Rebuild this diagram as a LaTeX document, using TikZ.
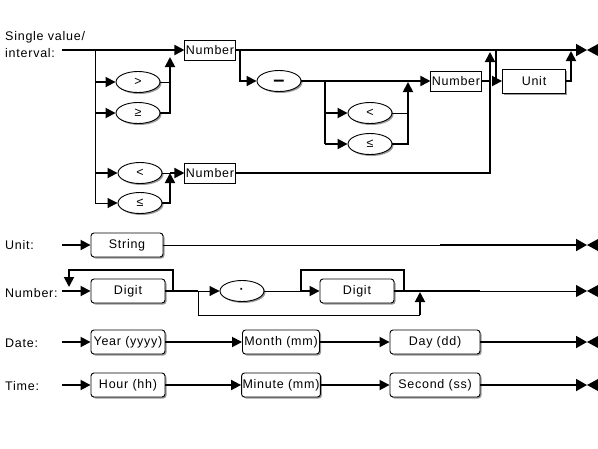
\documentclass[tikz,border=0pt]{standalone}
\usepackage{fontspec}
\setmainfont[LetterSpace=6]{Liberation Sans}
\usetikzlibrary{arrows.meta,shapes.geometric,shadows}
\begin{document}
\begin{tikzpicture}[x=1pt,y=-1pt,
  font=\fontsize{12.5}{14}\selectfont,
  thk/.style={line width=1.8pt},
  thn/.style={line width=0.9pt},
  arr/.style={-{Triangle[length=10pt,width=10pt]}},
  endarr/.style={-{Triangle[length=11pt,width=12pt]}},
  shad/.style={drop shadow={shadow xshift=1.5pt,shadow yshift=-1.5pt,opacity=1,fill=black!40}},
  sq/.style={draw,fill=white,line width=0.9pt,minimum height=20pt,inner sep=1pt},
  rbox/.style={draw,fill=white,line width=0.9pt,rounded corners=3pt,minimum height=24pt,inner sep=1pt,shad},
  oval/.style={draw,fill=white,ellipse,line width=0.9pt,minimum width=44pt,minimum height=21pt,inner sep=0pt,shad},
  lbl/.style={anchor=west,inner sep=0pt},
  ]
\useasboundingbox (0,0) rectangle (598,448);

% ---------------- Row 1: Single value / interval
\node[lbl] (t1) at (5,37) {Single value/};
\node[lbl] (t2) at (5,53) {interval:};
\coordinate (s1) at (62,50);
\coordinate (b1) at (95,50);
\node[sq,minimum width=50pt] (n1) at (210,50) {Number};
\node[oval] (gt) at (138,82) {>};
\node[oval] (ge) at (138,113) {≥};
\node[oval] (lt) at (140,173) {<};
\node[oval] (le) at (140,203) {≤};
\coordinate (b1d) at (95,203);
\coordinate (m1) at (170,57);
\coordinate (m2) at (170,173);
\node[sq,minimum width=50pt] (n2) at (210,173) {Number};
\coordinate (j1) at (490,52);
\coordinate (e1) at (587,50);

\draw[thk,arr] (s1) -- (n1.west);
\draw[thn] (b1) -- (b1d);
\draw[thk,arr] (b1 |- gt) -- (gt.west);
\draw[thk,arr] (b1 |- ge) -- (ge.west);
\draw[thk,arr] (b1 |- lt) -- (lt.west);
\draw[thn,arr] (b1d) -- (le.west);
\draw[thn] (gt.east) -- (gt.east -| m1);
\draw[thk,arr] (ge.east) -| (m1);
\draw[thn] (lt.east) -- (m2);
\draw[thk,arr] (le.east) -| (m2);
\draw[thk,arr] (m2) -- (n2.west);
\draw[thk,arr] (n2.east) -| (j1);
\draw[thk,endarr] (n1.east) -- (e1);
\fill (e1) -- ++(11,-6) -- ++(0,12) -- cycle;

% minus branch
\coordinate (b2) at (240,50);
\node[oval] (mi) at (279,81) {\smash{\raisebox{-5pt}{\fontsize{20}{20}\selectfont\bfseries –}}};
\node[sq,minimum width=49pt] (n3) at (456,81) {Number};
\coordinate (b3) at (325,81);
\node[oval] (lt2) at (370,113) {<};
\node[oval] (le2) at (370,144) {≤};
\coordinate (m3) at (408,82);
\draw[thk,arr] (b2) |- (mi.west);
\draw[thk,arr] (mi.east) -- (n3.west);
\draw[thk] (b3) -- (b3 |- le2);
\draw[thk,arr] (b3 |- lt2) -- (lt2.west);
\draw[thk,arr] (b3 |- le2) -- (le2.west);
\draw[thn] (lt2.east) -- (lt2.east -| m3);
\draw[thk,arr] (le2.east) -| (m3);
\draw[thk] (n3.east) -- (n3.east -| j1);

% unit option
\coordinate (b4) at (496,50);
\node[sq,shad,minimum width=63pt,minimum height=24pt] (un) at (534,81) {Unit};
\coordinate (j2) at (571,51);
\draw[thk,arr] (b4) |- (un.west);
\draw[thk,arr] (un.east) -| (j2);

% ---------------- Row 2: Unit
\node[lbl] (t3) at (5,245) {Unit:};
\coordinate (s2) at (62,245);
\node[rbox,minimum width=72pt] (str) at (127,245) {String};
\coordinate (u2) at (440,245);
\coordinate (e2) at (587,245);
\draw[thk,arr] (s2) -- (str.west);
\draw[thn] (str.east) -- (u2);
\draw[thk,endarr] (u2) -- (e2);
\fill (e2) -- ++(11,-6) -- ++(0,12) -- cycle;

% ---------------- Row 3: Number
\node[lbl] (t4) at (5,293) {Number:};
\coordinate (s3) at (62,291);
\node[rbox,minimum width=74pt] (d1) at (128,291) {Digit};
\coordinate (l1tr) at (173,270);
\coordinate (l1tl) at (69,270);
\coordinate (l1a) at (69,287);
\coordinate (b5) at (198,291);
\node[oval] (dot) at (242,291) {\textbf{·}};
\coordinate (l2l) at (301,291);
\coordinate (l2tl) at (301,270);
\coordinate (l2tr) at (404,270);
\coordinate (l2r) at (404,291);
\node[rbox,minimum width=74pt] (d2) at (357,291) {Digit};
\coordinate (bb1) at (198,315);
\coordinate (bb2) at (420,315);
\coordinate (bb3) at (420,292);
\coordinate (u3) at (480,291);
\coordinate (e3) at (587,291);

\draw[thk,arr] (s3) -- (d1.west);
\draw[thk,arr] (d1.east -| l1tr) -- (l1tr) -- (l1tl) -- (l1a);
\draw[thk] (d1.east) -- (d1.east -| b5);
\draw[thn,arr] (b5) -- (dot.west);
\draw[thn] (dot.east) -- (l2l);
\draw[thk,arr] (l2l) -- (d2.west);
\draw[thk] (l2r) -- (l2tr) -- (l2tl) -- (l2l);
\draw[thn] (b5) -- (bb1) -- (bb2);
\draw[thk,arr] (bb2) -- (bb3);
\draw[thk] (d2.east) -- (u3);
\draw[thn,endarr] (u3) -- (e3);
\fill (e3) -- ++(11,-6) -- ++(0,12) -- cycle;

% ---------------- Row 4: Date
\node[lbl] (t5) at (5,343) {Date:};
\coordinate (s4) at (62,342);
\node[rbox,minimum width=74pt] (yr) at (128,342) {Year (yyyy)};
\node[rbox,minimum width=77pt] (mo) at (281,342) {Month (mm)};
\node[rbox,minimum width=90pt] (dy) at (435,342) {Day (dd)};
\coordinate (e4) at (587,342);
\draw[thk,arr] (s4) -- (yr.west);
\draw[thk,arr] (yr.east) -- (mo.west);
\draw[thk,arr] (mo.east) -- (dy.west);
\draw[thk,endarr] (dy.east) -- (e4);
\fill (e4) -- ++(11,-6) -- ++(0,12) -- cycle;

% ---------------- Row 5: Time
\node[lbl] (t6) at (5,386) {Time:};
\coordinate (s5) at (62,385);
\node[rbox,minimum width=74pt] (hr) at (128,385) {Hour (hh)};
\node[rbox,minimum width=77pt] (mn) at (281,385) {Minute (mm)};
\node[rbox,minimum width=90pt] (sc) at (435,385) {Second (ss)};
\coordinate (e5) at (587,385);
\draw[thk,arr] (s5) -- (hr.west);
\draw[thk,arr] (hr.east) -- (mn.west);
\draw[thk,arr] (mn.east) -- (sc.west);
\draw[thk,endarr] (sc.east) -- (e5);
\fill (e5) -- ++(11,-6) -- ++(0,12) -- cycle;
\end{tikzpicture}
\end{document}
